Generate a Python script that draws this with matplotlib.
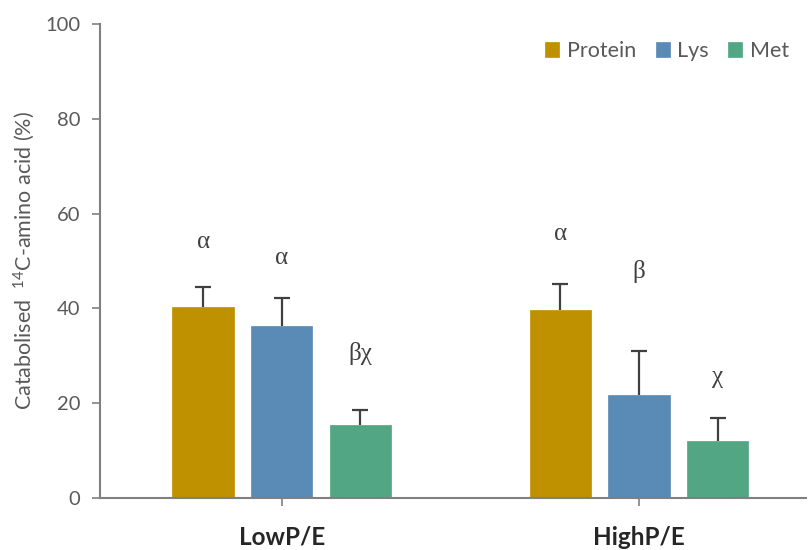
import matplotlib
matplotlib.use("Agg")
import matplotlib.pyplot as plt
import numpy as np

plt.rcParams['font.family'] = ['Lato', 'DejaVu Sans']
plt.rcParams['mathtext.default'] = 'regular'

groups = ["LowP/E", "HighP/E"]
series = ["Protein", "Lys", "Met"]
means = {
    "Protein": [40.2, 39.7],
    "Lys": [36.3, 21.7],
    "Met": [15.5, 12.1],
}
errors = {
    "Protein": [4.4, 5.4],
    "Lys": [5.9, 9.4],
    "Met": [3.1, 4.8],
}
letters = {
    "Protein": ["α", "α"],
    "Lys": ["α", "β"],
    "Met": ["βχ", "χ"],
}
letter_y = {
    "Protein": [54.0, 55.7],
    "Lys": [50.6, 47.7],
    "Met": [30.4, 25.5],
}
colors = {"Protein": "#BF9000", "Lys": "#5A8AB6", "Met": "#53A683"}

fig = plt.figure(figsize=(8.08, 5.5), dpi=100)
ax = fig.add_axes([100 / 808, 52 / 550, 706 / 808, 474 / 550])

x = np.arange(len(groups))
offsets = [-0.22, 0.0, 0.22]
width = 0.172
text_col = "#595959"
axis_col = "#808080"

for s, off in zip(series, offsets):
    pos = x + off
    ax.bar(pos, means[s], width, color=colors[s], edgecolor=colors[s],
           linewidth=0.5, label=s, zorder=2)
    _, caps, _ = ax.errorbar(pos, means[s],
                             yerr=[np.zeros(len(groups)), errors[s]],
                             fmt='none', ecolor="#404040", elinewidth=1.6,
                             capsize=5.5, capthick=1.6, zorder=3)
    # only the upper whisker gets a cap
    caps[0].set_visible(False)
    for p, t, ty in zip(pos, letters[s], letter_y[s]):
        ax.text(p, ty, t, ha='center', va='center', fontsize=18,
                color="#404040", family=['Liberation Serif', 'DejaVu Serif'])

ax.set_ylim(0, 100)
ax.set_yticks(np.arange(0, 101, 20))
ax.set_xlim(-0.5085, 1.4675)
ax.set_xticks(x)
ax.set_xticklabels(groups, fontsize=17.5, fontweight='bold', color="#262626")

for side in ['top', 'right']:
    ax.spines[side].set_visible(False)
for side in ['left', 'bottom']:
    ax.spines[side].set_color(axis_col)
    ax.spines[side].set_linewidth(1.5)

ax.tick_params(axis='y', direction='out', length=6, width=1.2, color=axis_col,
               labelsize=14.5, labelcolor=text_col, pad=8)
ax.tick_params(axis='x', direction='out', length=6, width=1.2, color=axis_col,
               pad=14)

ax.set_ylabel(r"Catabolised  $^{14}$C-amino acid (%)", fontsize=15.5,
              color=text_col, labelpad=6)

leg = ax.legend(loc='upper right', bbox_to_anchor=(1.0, 1.0), ncol=3,
                frameon=False, fontsize=15.5, handlelength=0.65,
                handleheight=0.65, handletextpad=0.35, columnspacing=0.9,
                borderaxespad=0.4)
for t in leg.get_texts():
    t.set_color(text_col)

fig.savefig("out.png", dpi=100)
